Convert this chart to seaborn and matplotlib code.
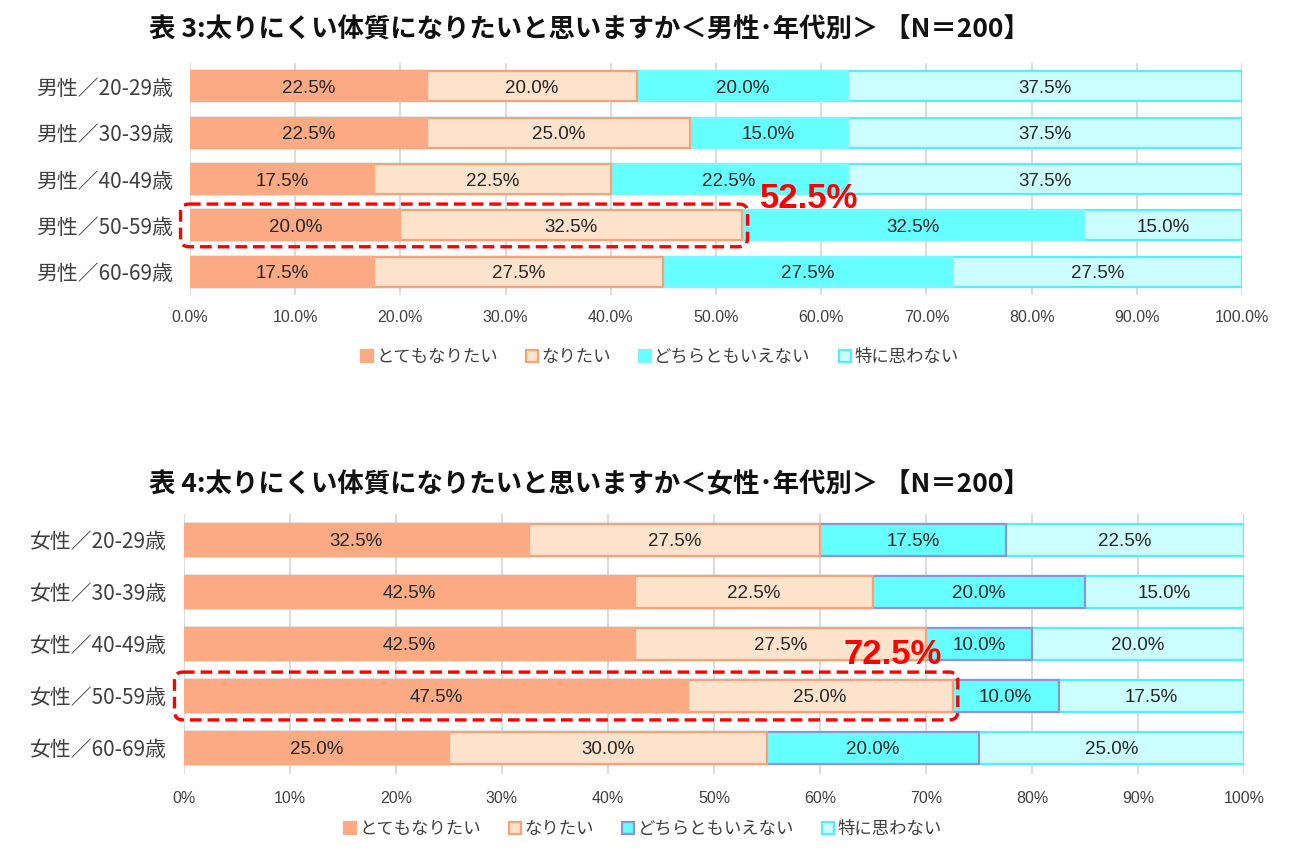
import numpy as np
import pandas as pd
import matplotlib
matplotlib.use('Agg')
import matplotlib.pyplot as plt
import seaborn as sns
from matplotlib.patches import Patch, FancyBboxPatch

sns.set_theme(style='white')
plt.rcParams['font.family'] = ['Noto Sans CJK JP', 'DejaVu Sans']

# ---------------- data ----------------
series_names = ['とてもなりたい', 'なりたい', 'どちらともいえない', '特に思わない']

men_labels = ['男性／20-29歳', '男性／30-39歳', '男性／40-49歳', '男性／50-59歳', '男性／60-69歳']
men_very = [22.5, 22.5, 17.5, 20.0, 17.5]
men_want = [20.0, 25.0, 22.5, 32.5, 27.5]
men_neutral = [20.0, 15.0, 22.5, 32.5, 27.5]
men_no = [37.5, 37.5, 37.5, 15.0, 27.5]

women_labels = ['女性／20-29歳', '女性／30-39歳', '女性／40-49歳', '女性／50-59歳', '女性／60-69歳']
women_very = [32.5, 42.5, 42.5, 47.5, 25.0]
women_want = [27.5, 22.5, 27.5, 25.0, 30.0]
women_neutral = [17.5, 20.0, 10.0, 10.0, 20.0]
women_no = [22.5, 15.0, 20.0, 17.5, 25.0]

tick_values = [0, 10, 20, 30, 40, 50, 60, 70, 80, 90, 100]
men_ticklabels = ['0.0%', '10.0%', '20.0%', '30.0%', '40.0%', '50.0%', '60.0%', '70.0%', '80.0%', '90.0%', '100.0%']
women_ticklabels = ['0%', '10%', '20%', '30%', '40%', '50%', '60%', '70%', '80%', '90%', '100%']

men_title = '表 3:太りにくい体質になりたいと思いますか＜男性･年代別＞ 【N＝200】'
women_title = '表 4:太りにくい体質になりたいと思いますか＜女性･年代別＞ 【N＝200】'
highlight_row = 3

# ---------------- styles ----------------
face_colors = ['#FBAA84', '#FDE3CC', '#66FFFF', '#CCFFFF']
men_edges = ['#FBAA84', '#F9A27A', '#7DF5FF', '#55EEFF']
women_edges = ['#FBAA84', '#F9A27A', '#8F94D8', '#55EEFF']
NUMFONT = ['Liberation Sans', 'DejaVu Sans']
FIG_W, FIG_H = 12.96, 8.65

fig = plt.figure(figsize=(FIG_W, FIG_H), dpi=100)
fig.patch.set_facecolor('white')


def draw_chart(rect, labels, series, edges, bar_w, ticklabels, tick_pad, title, title_y,
               hl_text_pos, legend_pos):
    ax = fig.add_axes(rect)
    n = len(labels)
    data = np.array(series, dtype=float).T  # rows x series
    cum = np.cumsum(data, axis=1)
    for k in range(data.shape[1] - 1, -1, -1):
        df = pd.DataFrame({'cat': labels, 'val': cum[:, k]})
        sns.barplot(data=df, x='val', y='cat', orient='h', color=face_colors[k],
                    saturation=1, edgecolor=edges[k], linewidth=1.6, width=bar_w, ax=ax)
    # value labels
    for i in range(n):
        for k in range(data.shape[1]):
            c = cum[i, k] - data[i, k] / 2
            ax.text(c, i, f'{data[i, k]:.1f}%', ha='center', va='center_baseline', fontsize=13.5,
                    family=NUMFONT, color='#262626', zorder=20)
    ax.set_xlim(0, 100)
    ax.set_ylim(n - 0.5, -0.5)
    ax.set_xticks(tick_values)
    ax.set_xticklabels(ticklabels, family=NUMFONT, fontsize=11.5, color='#404040')
    ax.tick_params(axis='x', length=0, pad=tick_pad)
    ax.tick_params(axis='y', length=0, pad=12)
    for t in ax.get_yticklabels():
        t.set_fontsize(15)
        t.set_color('#404040')
    ax.set_xlabel('')
    ax.set_ylabel('')
    ax.grid(axis='x', color='#D9D9D9', linewidth=1.3)
    ax.grid(axis='y', visible=False)
    ax.set_axisbelow(True)
    for s in ax.spines.values():
        s.set_visible(False)

    # highlight box
    tot = data[highlight_row, 0] + data[highlight_row, 1]
    ax_w_px = rect[2] * FIG_W * 100
    ax_h_px = rect[3] * FIG_H * 100
    asp = (ax_w_px / 100.0) / (ax_h_px / n)
    box = FancyBboxPatch((-0.9, highlight_row - 0.46), tot + 1.4, 0.92,
                         boxstyle='round,pad=0,rounding_size=0.8', mutation_aspect=asp,
                         transform=ax.transData, fill=False, edgecolor='#FF0000',
                         linestyle=(0, (3.5, 1.8)), linewidth=2.4, clip_on=False, zorder=30)
    ax.add_patch(box)
    ax.text(hl_text_pos[0], hl_text_pos[1], f'{tot:.1f}%', ha='left', va='center',
            fontsize=25, fontweight='bold', family=NUMFONT, color='#FF0000', zorder=31)

    fig.text(0.455, title_y, title, ha='center', va='center', fontsize=19,
             fontweight='bold', color='#111111')

    handles = [Patch(facecolor=face_colors[k], edgecolor=edges[k], linewidth=1.6)
               for k in range(len(series_names))]
    fig.legend(handles, series_names, loc='center', bbox_to_anchor=legend_pos, ncol=4,
               frameon=False, fontsize=12.5, handlelength=0.7, handleheight=0.7,
               handletextpad=0.2, columnspacing=1.6, labelcolor='#404040')
    return ax


draw_chart([190 / 1296, 570 / 865, 1052 / 1296, 232 / 865], men_labels,
           [men_very, men_want, men_neutral, men_no], men_edges, 0.65, men_ticklabels, 11,
           men_title, 1 - 30 / 865, (54.2, 2.41), (0.509, 1 - 357 / 865))

draw_chart([184 / 1296, 91 / 865, 1060 / 1296, 260 / 865], women_labels,
           [women_very, women_want, women_neutral, women_no], women_edges, 0.62, women_ticklabels, 12,
           women_title, 1 - 485 / 865, (62.2, 2.21), (0.496, 1 - 829 / 865))

fig.savefig('out.png', dpi=100, facecolor='white')
